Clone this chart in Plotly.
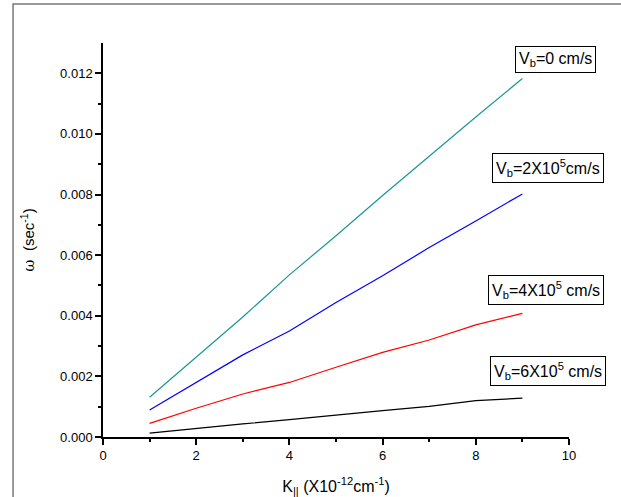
import plotly.graph_objects as go

k = [1, 2, 3, 4, 5, 6, 7, 8, 9]
w_vb0 = [1.31e-3, 2.63e-3, 3.96e-3, 5.35e-3, 6.64e-3, 7.97e-3, 9.27e-3, 10.56e-3, 11.83e-3]
w_vb2 = [0.89e-3, 1.80e-3, 2.71e-3, 3.50e-3, 4.44e-3, 5.32e-3, 6.25e-3, 7.13e-3, 8.02e-3]
w_vb4 = [0.45e-3, 0.95e-3, 1.42e-3, 1.80e-3, 2.30e-3, 2.79e-3, 3.20e-3, 3.70e-3, 4.08e-3]
w_vb6 = [0.13e-3, 0.29e-3, 0.43e-3, 0.57e-3, 0.73e-3, 0.87e-3, 1.01e-3, 1.20e-3, 1.28e-3]

series = [
    (w_vb0, "#1a9696", "V<sub>b</sub>=0 cm/s", 9.72, 0.01244),
    (w_vb2, "#0000ff", "V<sub>b</sub>=2X10<sup>5</sup>cm/s", 9.55, 0.00888),
    (w_vb4, "#ff0000", "V<sub>b</sub>=4X10<sup>5</sup> cm/s", 9.51, 0.00484),
    (w_vb6, "#000000", "V<sub>b</sub>=6X10<sup>5</sup> cm/s", 9.55, 0.00219),
]

fig = go.Figure()
for ys, col, label, ax, ay in series:
    fig.add_trace(go.Scatter(x=k, y=ys, mode="lines", line=dict(color=col, width=1.2),
                             showlegend=False, name=label))
    fig.add_annotation(x=ax, y=ay, xref="x", yref="y", text=label, showarrow=False,
                       font=dict(family="Liberation Sans, Arial", size=16, color="black"),
                       bordercolor="black", borderwidth=1, borderpad=3, bgcolor="white")

axis_common = dict(showgrid=False, zeroline=False, showline=True, linecolor="black",
                   linewidth=1.5, ticks="outside", ticklen=6, tickwidth=1.5,
                   tickcolor="black", mirror=False, automargin=False,
                   tickfont=dict(family="Liberation Sans, Arial", size=13, color="black"))

fig.update_xaxes(range=[0, 10], tickvals=[0, 2, 4, 6, 8, 10],
                 minor=dict(tickvals=[1, 3, 5, 7, 9], ticklen=3, tickwidth=1.5, tickcolor="black", ticks="outside"),
                 title=dict(text="K<sub>||</sub> (X10<sup>-12</sup>cm<sup>-1</sup>)",
                            font=dict(family="Liberation Sans, Arial", size=16, color="black"), standoff=20),
                 **axis_common)
fig.update_yaxes(range=[0, 0.013], tickvals=[0, 0.002, 0.004, 0.006, 0.008, 0.010, 0.012],
                 tickformat=".3f",
                 minor=dict(tickvals=[0.001, 0.003, 0.005, 0.007, 0.009, 0.011], ticklen=3, tickwidth=1.5,
                            tickcolor="black", ticks="outside"),
                 title=dict(text="<span style='font-family:DejaVu Serif'>ω</span>  (sec<sup>-1</sup>)",
                            font=dict(family="Liberation Sans, Arial", size=15, color="black"), standoff=22),
                 **axis_common)

fig.add_shape(type="rect", xref="paper", yref="paper", x0=-0.193, x1=1.3, y0=-0.3, y1=1.099,
              line=dict(color="#777777", width=1.5), fillcolor="rgba(0,0,0,0)", layer="below")

fig.update_layout(width=621, height=497, margin=dict(l=103, r=52, t=43, b=60),
                  plot_bgcolor="white", paper_bgcolor="white")

fig.write_html("out.html")
